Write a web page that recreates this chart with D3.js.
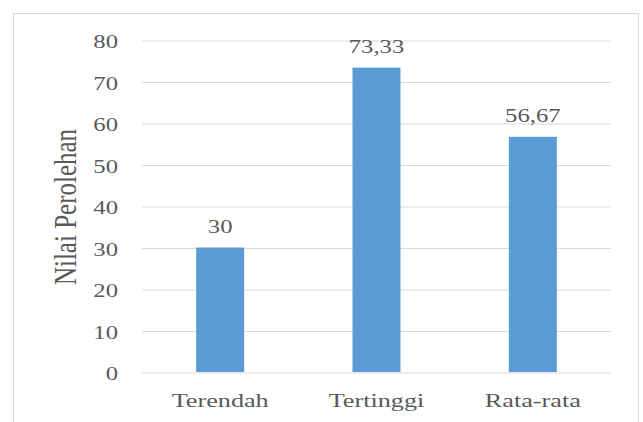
<!DOCTYPE html>
<html>
<head>
<meta charset="utf-8">
<script src="https://cdn.jsdelivr.net/npm/d3@7/dist/d3.min.js"></script>
<style>
  html, body { margin: 0; padding: 0; background: #fff; }
  svg text { font-family: "Liberation Serif", "Times New Roman", serif; fill: #595959; }
</style>
</head>
<body>
<div id="chart"></div>
<script>
/* data */
const categories = ['Terendah', 'Tertinggi', 'Rata-rata'];
const values     = [30, 73.33, 56.67];
const valueLabels = ['30', '73,33', '56,67'];
const yTicks     = [0, 10, 20, 30, 40, 50, 60, 70, 80];
const yTitle     = 'Nilai Perolehan';

const W = 643, H = 422;
const STRETCH = 1.3;   // source picture is stretched horizontally
const plot = { left: 142, right: 611, top: 40, bottom: 372 };

const svg = d3.select('#chart').append('svg')
  .attr('width', W).attr('height', H);

/* outer frame */
svg.append('rect')
  .attr('x', 13.5).attr('y', 13.5)
  .attr('width', 625).attr('height', 430)
  .attr('fill', 'none').attr('stroke', '#d9d9d9').attr('stroke-width', 1);

const x = d3.scaleBand()
  .domain(categories)
  .range([plot.left, plot.right])
  .paddingInner(0.693)
  .paddingOuter(0.3465);

const y = d3.scaleLinear()
  .domain([0, 80])
  .range([plot.bottom, plot.top]);

/* gridlines + tick labels via axis */
const yAxis = svg.append('g')
  .attr('transform', `translate(${plot.left},0)`)
  .call(d3.axisLeft(y).tickValues(yTicks).tickSize(-(plot.right - plot.left)).tickPadding(0));

yAxis.select('.domain').remove();
yAxis.selectAll('.tick line')
  .attr('stroke', '#d9d9d9').attr('stroke-width', 1.2)
  .attr('transform', 'translate(0,0.5)');
yAxis.selectAll('.tick text')
  .attr('x', null).attr('dy', null)
  .attr('text-anchor', 'end')
  .attr('dominant-baseline', 'central')
  .style('font-size', '19px')
  .attr('transform', `translate(-24,1.5) scale(${STRETCH},1)`);

/* bars */
svg.append('g').selectAll('rect')
  .data(values).join('rect')
  .attr('x', (d, i) => x(categories[i]))
  .attr('width', x.bandwidth())
  .attr('y', d => y(d))
  .attr('height', d => y(0) - y(d))
  .attr('fill', '#5b9bd5');

/* value labels */
svg.append('g').selectAll('text')
  .data(values).join('text')
  .attr('text-anchor', 'middle')
  .style('font-size', '19px')
  .attr('transform', (d, i) =>
    `translate(${x(categories[i]) + x.bandwidth() / 2},${y(d) - 15}) scale(${STRETCH},1)`)
  .text((d, i) => valueLabels[i]);

/* category labels */
svg.append('g').selectAll('text')
  .data(categories).join('text')
  .attr('text-anchor', 'middle')
  .style('font-size', '19px')
  .attr('transform', d =>
    `translate(${x(d) + x.bandwidth() / 2},${plot.bottom + 35}) scale(1.38,1)`)
  .text(d => d);

/* y axis title */
svg.append('text')
  .attr('text-anchor', 'middle')
  .attr('dominant-baseline', 'central')
  .style('font-size', '25px')
  .attr('transform', `translate(65,207) scale(${STRETCH},1) rotate(-90)`)
  .text(yTitle);
</script>
</body>
</html>
